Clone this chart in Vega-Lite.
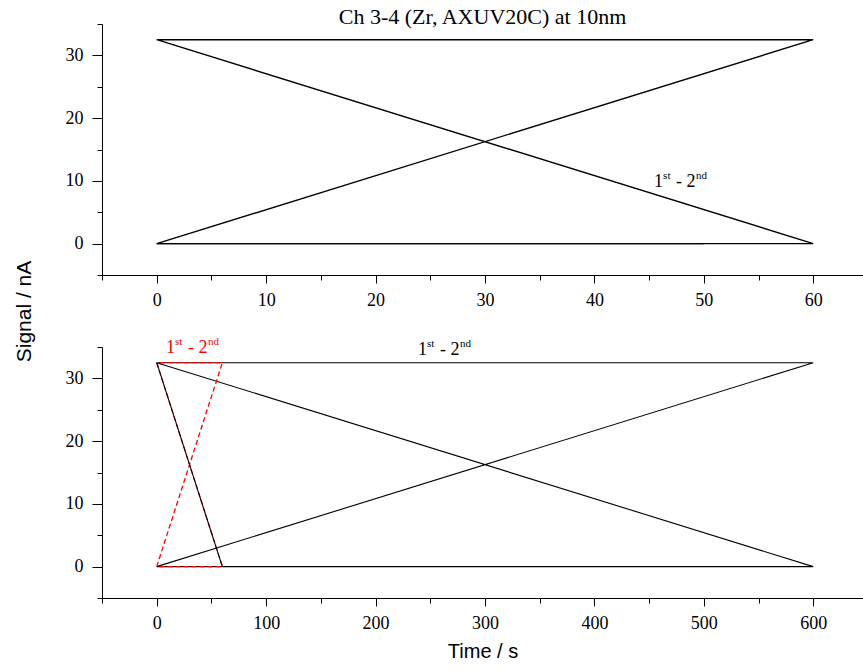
{
  "$schema": "https://vega.github.io/schema/vega-lite/v6.json",
  "background": "white",
  "padding": {"left": 13, "top": 6, "right": 0, "bottom": 5},
  "config": {
    "view": {"stroke": null},
    "font": "Liberation Serif",
    "axis": {
      "grid": false,
      "domainColor": "black",
      "tickColor": "black",
      "labelColor": "black",
      "labelFont": "Liberation Serif",
      "labelFontSize": 18,
      "labelOverlap": false,
      "labelFlush": false,
      "titleColor": "black"
    }
  },
  "datasets": {
    "lines": [
      {"panel": "top", "kind": "main", "series": "a", "i": 1, "t": 0, "s": 0},
      {"panel": "top", "kind": "main", "series": "a", "i": 2, "t": 60, "s": 32.5},
      {"panel": "top", "kind": "main", "series": "a", "i": 3, "t": 0, "s": 32.5},
      {"panel": "top", "kind": "main", "series": "a", "i": 4, "t": 60, "s": 0},
      {"panel": "top", "kind": "main", "series": "a", "i": 5, "t": 0, "s": 0},
      {"panel": "top", "kind": "main", "series": "b", "i": 1, "t": 0, "s": 0},
      {"panel": "top", "kind": "main", "series": "b", "i": 2, "t": 50, "s": 0},
      {"panel": "bot", "kind": "main", "series": "a", "i": 1, "t": 0, "s": 0},
      {"panel": "bot", "kind": "main", "series": "a", "i": 2, "t": 600, "s": 32.5},
      {"panel": "bot", "kind": "main", "series": "a", "i": 3, "t": 0, "s": 32.5},
      {"panel": "bot", "kind": "main", "series": "a", "i": 4, "t": 600, "s": 0},
      {"panel": "bot", "kind": "main", "series": "a", "i": 5, "t": 0, "s": 0},
      {"panel": "bot", "kind": "ref", "series": "r", "i": 1, "t": 0, "s": 0},
      {"panel": "bot", "kind": "ref", "series": "r", "i": 2, "t": 60, "s": 32.5},
      {"panel": "bot", "kind": "ref", "series": "r", "i": 3, "t": 0, "s": 32.5},
      {"panel": "bot", "kind": "ref", "series": "r", "i": 4, "t": 60, "s": 0},
      {"panel": "bot", "kind": "ref", "series": "r", "i": 5, "t": 0, "s": 0},
      {"panel": "bot", "kind": "main", "series": "c", "i": 1, "t": 0, "s": 32.5},
      {"panel": "bot", "kind": "main", "series": "c", "i": 2, "t": 60, "s": 0}
    ],
    "labels": [
      {"panel": "top", "kind": "main", "t": 45.46, "s": 9.1},
      {"panel": "bot", "kind": "main", "t": 238.8, "s": 33.66},
      {"panel": "bot", "kind": "ref", "t": 8.5, "s": 34.0}
    ]
  },
  "bounds": "flush",
  "spacing": 72,
  "vconcat": [
    {
      "width": 761,
      "height": 251,
      "title": {
        "text": "Ch 3-4 (Zr, AXUV20C) at 10nm",
        "font": "Liberation Serif",
        "fontSize": 22,
        "fontWeight": "normal",
        "color": "black",
        "anchor": "middle",
        "frame": "group",
        "baseline": "alphabetic",
        "offset": -31
      },
      "encoding": {
        "x": {
          "field": "t",
          "type": "quantitative",
          "scale": {"domain": [-5, 64.55], "nice": false, "zero": false},
          "axis": {
            "title": null,
            "values": [-5, 0, 5, 10, 15, 20, 25, 30, 35, 40, 45, 50, 55, 60],
            "labelExpr": "datum.value % 10 === 0 && datum.value >= 0 ? datum.label : ''",
            "tickSize": {"condition": {"test": "datum.value % 10 === 0", "value": 8}, "value": 5},
            "labelPadding": 8
          }
        },
        "y": {
          "field": "s",
          "type": "quantitative",
          "scale": {"domain": [-5, 35], "nice": false, "zero": false},
          "axis": {
            "title": "Signal / nA",
            "titleFont": "Liberation Sans",
            "titleFontSize": 21,
            "titleFontWeight": "normal",
            "titleAngle": -90,
            "titleAlign": "center",
            "titleBaseline": "middle",
            "titleX": -78,
            "titleY": 287,
            "values": [-5, 0, 5, 10, 15, 20, 25, 30, 35],
            "labelExpr": "datum.value % 10 === 0 && datum.value >= 0 ? datum.label : ''",
            "tickSize": {"condition": {"test": "datum.value % 10 === 0", "value": 10}, "value": 5},
            "labelPadding": 9
          }
        }
      },
      "layer": [
        {
          "data": {"name": "lines"},
          "transform": [{"filter": "datum.panel === 'top'"}],
          "mark": {"type": "line", "color": "black", "strokeWidth": 1.4},
          "encoding": {"order": {"field": "i", "type": "quantitative"}, "detail": {"field": "series", "type": "nominal"}}
        },
        {
          "data": {"name": "labels"},
          "transform": [{"filter": "datum.panel === 'top'"}],
          "mark": {"type": "text", "text": "1", "align": "left", "baseline": "alphabetic", "fontSize": 18, "color": "black"}
        },
        {
          "data": {"name": "labels"},
          "transform": [{"filter": "datum.panel === 'top'"}],
          "mark": {"type": "text", "text": "st", "align": "left", "baseline": "alphabetic", "fontSize": 11, "dx": 9, "dy": -8, "color": "black"}
        },
        {
          "data": {"name": "labels"},
          "transform": [{"filter": "datum.panel === 'top'"}],
          "mark": {"type": "text", "text": "- 2", "align": "left", "baseline": "alphabetic", "fontSize": 18, "dx": 22, "color": "black"}
        },
        {
          "data": {"name": "labels"},
          "transform": [{"filter": "datum.panel === 'top'"}],
          "mark": {"type": "text", "text": "nd", "align": "left", "baseline": "alphabetic", "fontSize": 11, "dx": 42, "dy": -8, "color": "black"}
        }
      ]
    },
    {
      "width": 761,
      "height": 251,
      "encoding": {
        "x": {
          "field": "t",
          "type": "quantitative",
          "scale": {"domain": [-50, 645.5], "nice": false, "zero": false},
          "axis": {
            "title": "Time / s",
            "titleFont": "Liberation Sans",
            "titleFontSize": 20,
            "titleFontWeight": "normal",
            "titlePadding": 9,
            "values": [-50, 0, 50, 100, 150, 200, 250, 300, 350, 400, 450, 500, 550, 600],
            "labelExpr": "datum.value % 100 === 0 && datum.value >= 0 ? datum.label : ''",
            "tickSize": {"condition": {"test": "datum.value % 100 === 0", "value": 8}, "value": 5},
            "labelPadding": 8
          }
        },
        "y": {
          "field": "s",
          "type": "quantitative",
          "scale": {"domain": [-5, 35], "nice": false, "zero": false},
          "axis": {
            "title": null,
            "values": [-5, 0, 5, 10, 15, 20, 25, 30, 35],
            "labelExpr": "datum.value % 10 === 0 && datum.value >= 0 ? datum.label : ''",
            "tickSize": {"condition": {"test": "datum.value % 10 === 0", "value": 10}, "value": 5},
            "labelPadding": 9
          }
        },
        "color": {"field": "kind", "type": "nominal", "scale": {"domain": ["main", "ref"], "range": ["#000000", "#ff0000"]}, "legend": null}
      },
      "layer": [
        {
          "data": {"name": "lines"},
          "transform": [{"filter": "datum.panel === 'bot' && datum.series === 'a'"}],
          "mark": {"type": "line", "strokeWidth": 1.1},
          "encoding": {"order": {"field": "i", "type": "quantitative"}}
        },
        {
          "data": {"name": "lines"},
          "transform": [{"filter": "datum.panel === 'bot' && datum.series === 'r'"}],
          "mark": {"type": "line", "strokeWidth": 1.3, "strokeDash": [5, 3]},
          "encoding": {"order": {"field": "i", "type": "quantitative"}}
        },
        {
          "data": {"name": "lines"},
          "transform": [{"filter": "datum.panel === 'bot' && datum.series === 'c'"}],
          "mark": {"type": "line", "strokeWidth": 1.1},
          "encoding": {"order": {"field": "i", "type": "quantitative"}}
        },
        {
          "data": {"name": "labels"},
          "transform": [{"filter": "datum.panel === 'bot'"}],
          "mark": {"type": "text", "text": "1", "align": "left", "baseline": "alphabetic", "fontSize": 18}
        },
        {
          "data": {"name": "labels"},
          "transform": [{"filter": "datum.panel === 'bot'"}],
          "mark": {"type": "text", "text": "st", "align": "left", "baseline": "alphabetic", "fontSize": 11, "dx": 9, "dy": -8}
        },
        {
          "data": {"name": "labels"},
          "transform": [{"filter": "datum.panel === 'bot'"}],
          "mark": {"type": "text", "text": "- 2", "align": "left", "baseline": "alphabetic", "fontSize": 18, "dx": 22}
        },
        {
          "data": {"name": "labels"},
          "transform": [{"filter": "datum.panel === 'bot'"}],
          "mark": {"type": "text", "text": "nd", "align": "left", "baseline": "alphabetic", "fontSize": 11, "dx": 42, "dy": -8}
        }
      ]
    }
  ]
}
